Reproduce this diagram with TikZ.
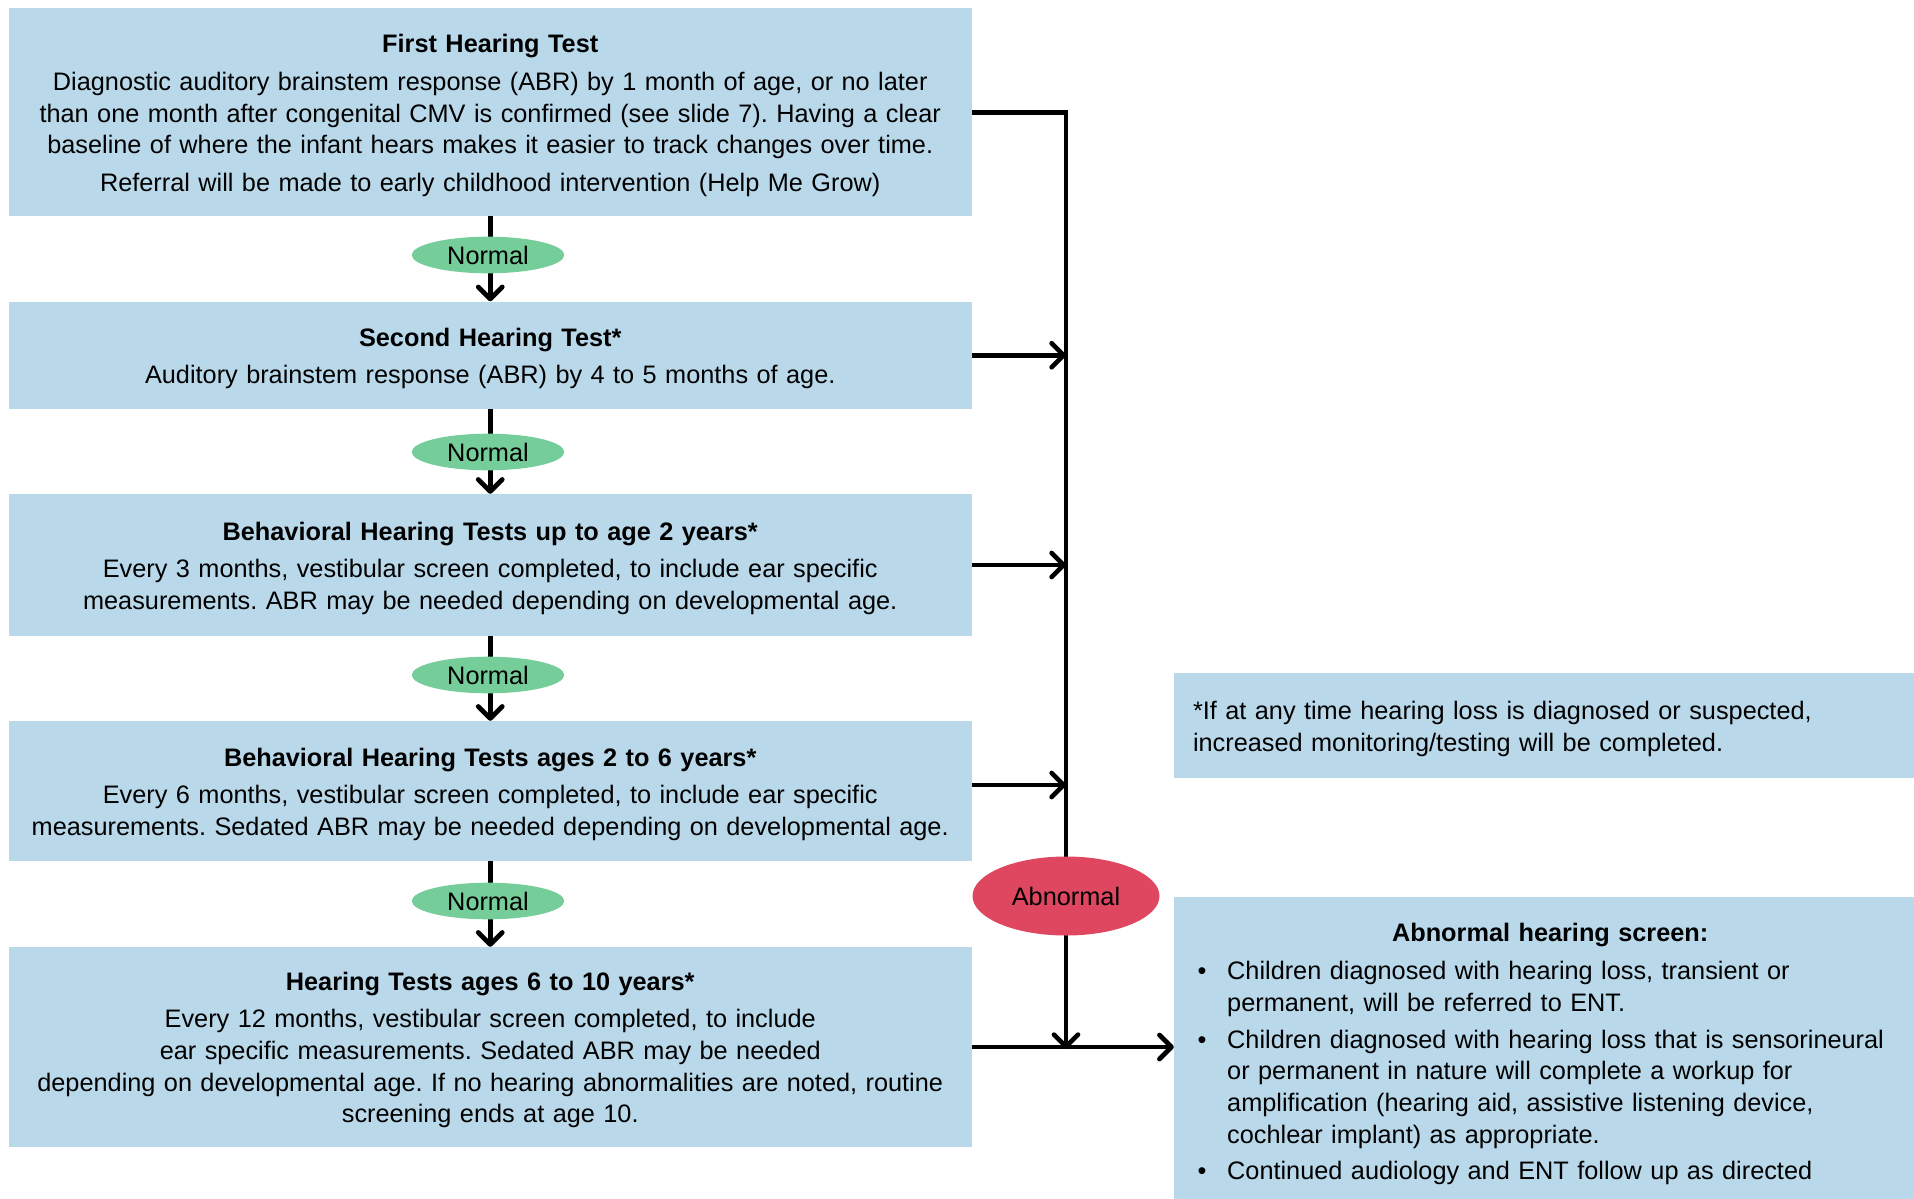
\documentclass[tikz,border=0pt]{standalone}
\usepackage{fontspec}
\setmainfont{Liberation Sans}
\usetikzlibrary{arrows.meta,shapes.geometric}
\definecolor{boxblue}{HTML}{B9D9EB}
\definecolor{okgreen}{HTML}{75CD99}
\definecolor{badred}{HTML}{DF4760}
\newcommand\abitem{\par\vspace{5pt}\hangindent=29.5pt\hangafter=1\noindent\makebox[29.5pt][l]{\textbullet}}
\newcommand\topstrut{\rule{0pt}{25pt}}
\frenchspacing
\begin{document}
\begin{tikzpicture}[x=1pt,y=-1pt,
  txt/.style={font=\fontsize{25.3}{31.7}\selectfont},
  box/.style={txt, fill=boxblue, draw=none, minimum width=963.5pt, text width=955pt, align=center, inner sep=0pt},
  normal/.style={txt, ellipse, fill=okgreen, minimum width=152.6pt, minimum height=36.6pt, inner sep=0pt},
  abnormal/.style={txt, ellipse, fill=badred, minimum width=187pt, minimum height=79pt, inner sep=0pt},
  arr/.style={line width=4.7pt, -{Straight Barb[length=12pt,width=24pt,round]}},
  ln/.style={line width=4.7pt}]
\useasboundingbox (0,0) rectangle (1914,1199);

\node[box, minimum height=207.5pt] (b1) at (490.25,112.25) {\topstrut{\bfseries First Hearing Test}\\[6.3pt]
Diagnostic auditory brainstem response (ABR) by 1 month of age, or no later\\
than one month after congenital CMV is confirmed (see slide 7). Having a clear\\
baseline of where the infant hears makes it easier to track changes over time.\\[6.3pt]
Referral will be made to early childhood intervention (Help Me Grow)};

\node[box, minimum height=107.5pt] (b2) at (490.25,355.25) {\topstrut{\bfseries Second Hearing Test*}\\[5pt]
Auditory brainstem response (ABR) by 4 to 5 months of age.};

\node[box, minimum height=142pt] (b3) at (490.25,565) {\topstrut{\bfseries Behavioral Hearing Tests up to age 2 years*}\\[5pt]
Every 3 months, vestibular screen completed, to include ear specific\\
measurements. ABR may be needed depending on developmental age.};

\node[box, minimum height=140pt] (b4) at (490.25,791) {\topstrut{\bfseries Behavioral Hearing Tests ages 2 to 6 years*}\\[5pt]
Every 6 months, vestibular screen completed, to include ear specific\\
measurements. Sedated ABR may be needed depending on developmental age.};

\node[box, minimum height=200pt] (b5) at (490.25,1047) {\topstrut{\bfseries Hearing Tests ages 6 to 10 years*}\\[5pt]
Every 12 months, vestibular screen completed, to include\\
ear specific measurements. Sedated ABR may be needed\\
depending on developmental age. If no hearing abnormalities are noted, routine\\
screening ends at age 10.};

\node[txt, fill=boxblue, minimum width=740pt, minimum height=105pt, text width=702pt, align=left, inner xsep=19pt, inner ysep=0pt] (foot) at (1544,725.5)
{\topstrut*If at any time hearing loss is diagnosed or suspected,\\
increased monitoring/testing will be completed.};

\node[fill=boxblue, minimum width=740pt, minimum height=302pt, inner sep=0pt] (abn) at (1544,1048) {};
\node[txt, anchor=north west, inner sep=0pt, text width=716pt, align=left] (abntxt) at (1197.5,922.5) {%
\noindent\makebox[705pt][c]{\bfseries Abnormal hearing screen:}\par\vspace{2pt}
\abitem Children diagnosed with hearing loss, transient or\newline permanent, will be referred to ENT.
\abitem Children diagnosed with hearing loss that is sensorineural\newline or permanent in nature will complete a workup for\newline amplification (hearing aid, assistive listening device,\newline cochlear implant) as appropriate.
\abitem Continued audiology and ENT follow up as directed\par};

\coordinate (busend) at (1066,1049);

\draw[arr] (b1.south) -- (b2.north);
\draw[arr] (b2.south) -- (b3.north);
\draw[arr] (b3.south) -- (b4.north);
\draw[arr] (b4.south) -- (b5.north);

\draw[arr] (b1.east) -| (busend);
\draw[arr] (b2.east) -- (b2.east -| busend);
\draw[arr] (b3.east) -- (b3.east -| busend);
\draw[arr] ([yshift=6pt]b4.east) -- ([yshift=6pt]b4.east -| busend);
\draw[arr] (b5.east) -- (b5.east -| abn.west);

\node[normal] (n1) at (488,255) {Normal};
\node[normal] (n2) at (488,452) {Normal};
\node[normal] (n3) at (488,675) {Normal};
\node[normal] (n4) at (488,901) {Normal};
\node[abnormal] (ab) at (1066,896) {Abnormal};
\end{tikzpicture}
\end{document}
